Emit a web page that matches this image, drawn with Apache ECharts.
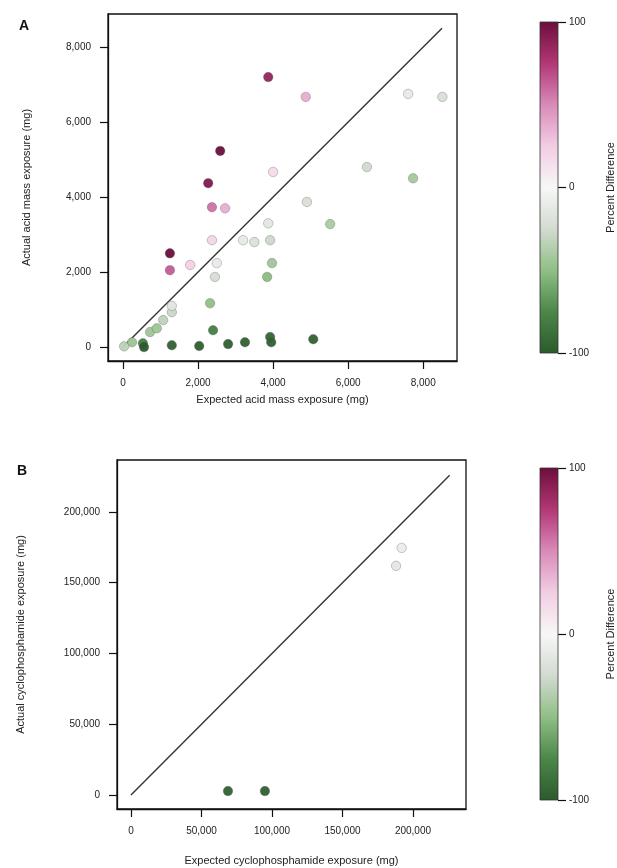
<!DOCTYPE html>
<html>
<head>
<meta charset="utf-8">
<script src="https://cdn.jsdelivr.net/npm/echarts@6/dist/echarts.min.js"></script>
<style>
  html, body { margin: 0; padding: 0; background: #fff; }
  #chart { width: 617px; height: 868px; }
</style>
</head>
<body>
<div id="chart"></div>
<script>
  // panel A: expected vs actual (mg)
  var expectedA = [3870, 4870, 7600, 8510, 2590, 4000, 6500, 7730, 2270, 2370, 2720, 4900, 5520, 3870,
    2370, 3200, 3500, 3920, 1250, 1250, 1790, 2500, 2450, 3970, 3840, 2320, 1300, 1300, 1070, 720,
    530, 240, 30, 560, 1300, 2400, 2030, 2800, 3250, 3920, 3950, 5070, 900]
  var actualA = [7200, 6670, 6750, 6670, 5230, 4670, 4800, 4500, 4370, 3730, 3700, 3870, 3280, 3300,
    2850, 2850, 2800, 2850, 2500, 2050, 2190, 2240, 1870, 2240, 1870, 1170, 930, 1100, 720, 400,
    100, 130, 20, 0, 50, 450, 30, 80, 130, 270, 130, 210, 500]
  // panel B
  var expectedB = [68800, 95000, 192000, 188000]
  var actualB = [2800, 2800, 174600, 161900]

  var ticksA = [0, 2000, 4000, 6000, 8000]
  var ticksB = [0, 50000, 100000, 150000, 200000]
  var ticksBar = [-100, 0, 100]
  var identityA = [[0, 0], [8500, 8500]]
  var identityB = [[0, 0], [226000, 226000]]

  // colour map, from -100 (green) to 100 (magenta)
  var cmap = ['#2c5a2c', '#4b8749', '#8fbf84', '#d3dbd1', '#f7f7f7', '#f2cde3', '#d98ab9', '#b23775', '#6c0e3c']

  function pct (e, a) {
    var v = (a - e) / e * 100
    return Math.max(-100, Math.min(100, v))
  }
  function points (ex, ac) {
    return ex.map(function (e, i) { return [e, ac[i], pct(e, ac[i])] })
  }

  var font = 'Liberation Sans'
  var txt = '#222'

  function mainAxis (idx, min, max, ticks, name, gap) {
    return {
      gridIndex: idx, type: 'value', min: min, max: max,
      name: name, nameLocation: 'middle', nameGap: gap,
      nameTextStyle: { fontFamily: font, fontSize: 11, color: txt },
      axisLine: { show: true, onZero: false, lineStyle: { color: '#111', width: 1.3 } },
      axisTick: { show: true, length: 8, customValues: ticks, lineStyle: { color: '#111', width: 1.2 } },
      axisLabel: { customValues: ticks, margin: 17, fontFamily: font, fontSize: 10, color: txt },
      splitLine: { show: false }
    }
  }

  var stops = cmap.slice().reverse().map(function (c, i) {
    return { offset: i / (cmap.length - 1), color: c }
  })

  function barX (idx) {
    return { gridIndex: idx, type: 'value', min: 0, max: 1, show: false }
  }
  function barY (idx) {
    return {
      gridIndex: idx, type: 'value', min: -100, max: 100, position: 'right',
      name: 'Percent Difference', nameLocation: 'middle', nameGap: 47, nameRotate: 90,
      nameTextStyle: { fontFamily: font, fontSize: 11, color: txt },
      axisLine: { show: false, onZero: false },
      axisTick: { show: true, length: 8, customValues: ticksBar, lineStyle: { color: '#111', width: 1.2 } },
      axisLabel: { customValues: ticksBar, margin: 11, fontFamily: font, fontSize: 10, color: txt },
      splitLine: { show: false }
    }
  }
  function colorBar (idx) {
    return {
      type: 'custom', xAxisIndex: idx, yAxisIndex: idx, data: [[0, 0]], silent: true, z: 1,
      renderItem: function (params, api) {
        var p1 = api.coord([0, 100])
        var p2 = api.coord([1, -100])
        return {
          type: 'rect',
          shape: { x: p1[0], y: p1[1], width: p2[0] - p1[0], height: p2[1] - p1[1] },
          style: { fill: new echarts.graphic.LinearGradient(0, 0, 0, 1, stops), stroke: '#333', lineWidth: 0.8 }
        }
      }
    }
  }
  function scatter (idx, data) {
    return {
      type: 'scatter', xAxisIndex: idx, yAxisIndex: idx, data: data, symbolSize: 9.5,
      itemStyle: { borderColor: 'rgba(80,80,80,0.45)', borderWidth: 0.7, opacity: 0.95 }
    }
  }
  function identity (idx, data) {
    return {
      type: 'line', xAxisIndex: idx, yAxisIndex: idx, data: data, symbol: 'none', silent: true,
      lineStyle: { color: '#333', width: 1.4 }, z: 1
    }
  }

  var chart = echarts.init(document.getElementById('chart'), null, { renderer: 'canvas' })
  var option = {
    backgroundColor: '#fff',
    animation: false,
    title: [
      { text: 'A', left: 14, top: 14, textStyle: { fontFamily: font, fontSize: 14, fontWeight: 'bold', color: '#111' } },
      { text: 'B', left: 12, top: 459, textStyle: { fontFamily: font, fontSize: 14, fontWeight: 'bold', color: '#111' } }
    ],
    grid: [
      { left: 108, top: 14, width: 349, height: 347, show: true, borderColor: '#111', borderWidth: 1.3 },
      { left: 540, top: 22, width: 18, height: 331 },
      { left: 117, top: 460, width: 349, height: 349, show: true, borderColor: '#111', borderWidth: 1.3 },
      { left: 540, top: 468, width: 18, height: 332 }
    ],
    xAxis: [
      mainAxis(0, -400, 8900, ticksA, 'Expected acid mass exposure (mg)', 33),
      barX(1),
      mainAxis(2, -9900, 237600, ticksB, 'Expected cyclophosphamide exposure (mg)', 46),
      barX(3)
    ],
    yAxis: [
      mainAxis(0, -370, 8880, ticksA, 'Actual acid mass exposure (mg)', 76),
      barY(1),
      mainAxis(2, -9900, 236700, ticksB, 'Actual cyclophosphamide exposure (mg)', 91),
      barY(3)
    ],
    visualMap: [
      { type: 'continuous', show: false, seriesIndex: [1, 3], dimension: 2, min: -100, max: 100, inRange: { color: cmap } }
    ],
    series: [
      identity(0, identityA),
      scatter(0, points(expectedA, actualA)),
      identity(2, identityB),
      scatter(2, points(expectedB, actualB)),
      colorBar(1),
      colorBar(3)
    ]
  }
  chart.setOption(option)
  window.addEventListener('resize', chart.resize)
</script>
</body>
</html>
